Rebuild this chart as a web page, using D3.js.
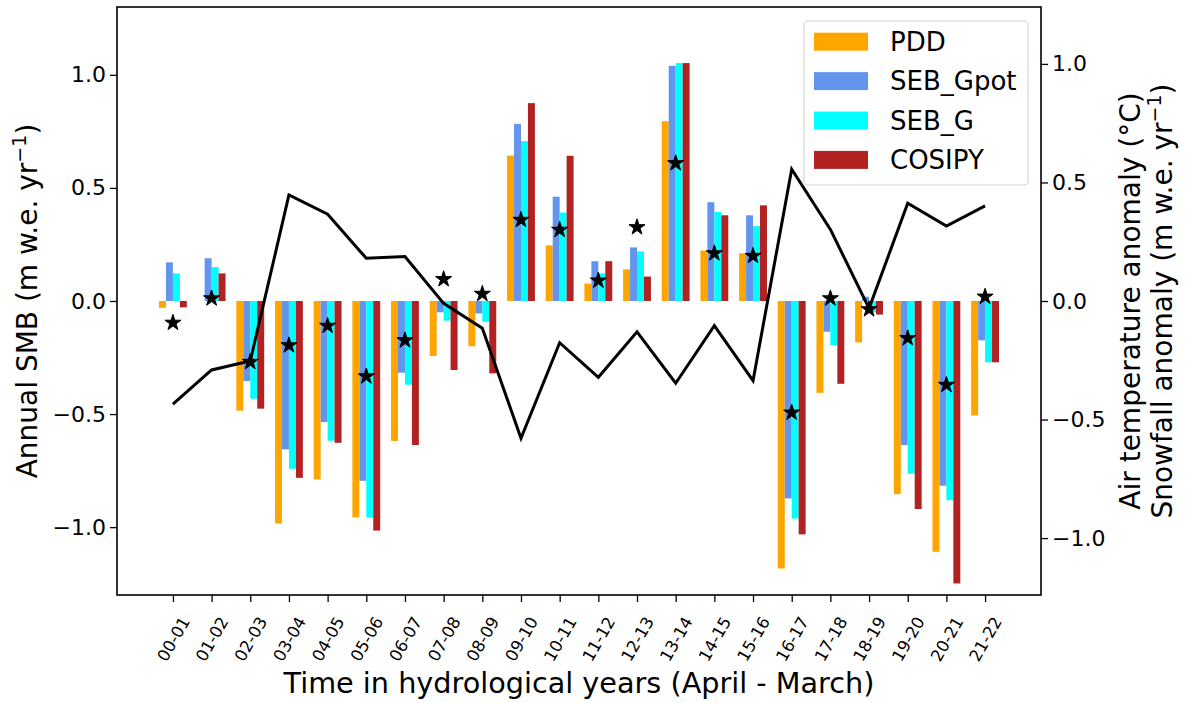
<!DOCTYPE html>
<html>
<head>
<meta charset="utf-8">
<script src="https://cdn.jsdelivr.net/npm/d3@7"></script>
<style>
  body { margin: 0; background: #fff; }
  svg text { font-family: "DejaVu Sans", sans-serif; fill: #000; }
</style>
</head>
<body>
<svg id="chart" width="1192" height="703"></svg>
<script>
/*global d3*/

// hydrological years (April - March)
var years = ["00-01", "01-02", "02-03", "03-04", "04-05", "05-06", "06-07", "07-08",
  "08-09", "09-10", "10-11", "11-12", "12-13", "13-14", "14-15", "15-16", "16-17",
  "17-18", "18-19", "19-20", "20-21", "21-22"];

// annual SMB per model (m w.e. yr-1)
var pdd = [-0.030, 0.000, -0.485, -0.984, -0.789, -0.957, -0.619, -0.243, -0.200, 0.643,
  0.246, 0.077, 0.140, 0.795, 0.223, 0.211, -1.183, -0.406, -0.183, -0.854, -1.109, -0.506];
var sebGpot = [0.171, 0.189, -0.354, -0.656, -0.535, -0.795, -0.317, -0.050, -0.055, 0.783,
  0.461, 0.176, 0.237, 1.040, 0.437, 0.379, -0.873, -0.136, 0.019, -0.637, -0.817, -0.174];
var sebG = [0.122, 0.150, -0.432, -0.742, -0.618, -0.957, -0.370, -0.087, -0.092, 0.707,
  0.391, 0.122, 0.219, 1.052, 0.394, 0.331, -0.962, -0.195, -0.050, -0.764, -0.881, -0.271];
var cosipy = [-0.028, 0.122, -0.476, -0.782, -0.627, -1.015, -0.637, -0.305, -0.320, 0.875,
  0.642, 0.176, 0.108, 1.052, 0.379, 0.423, -1.032, -0.366, -0.060, -0.920, -1.249, -0.271];

// anomalies on the right axis
var airTemp = [-0.435, -0.291, -0.253, 0.447, 0.366, 0.180, 0.188, -0.010, -0.115, -0.579,
  -0.176, -0.322, -0.130, -0.347, -0.104, -0.336, 0.556, 0.302, -0.031, 0.412, 0.316, 0.401];
var snowfall = [-0.092, 0.011, -0.257, -0.187, -0.105, -0.318, -0.166, 0.092, 0.030, 0.342,
  0.300, 0.086, 0.311, 0.581, 0.201, 0.190, -0.471, 0.011, -0.035, -0.157, -0.354, 0.018];

var seriesNames = ["PDD", "SEB_Gpot", "SEB_G", "COSIPY"];
var seriesColors = ["orange", "cornflowerblue", "cyan", "firebrick"];
var smbTicks = [-1.0, -0.5, 0.0, 0.5, 1.0];
var anomalyTicks = [-1.0, -0.5, 0.0, 0.5, 1.0];

(function () {
  "use strict";

  var svg = d3.select("#chart"),
    left = 117,
    right = 1041,
    top = 7,
    bottom = 595,
    barWidth = 0.18,
    series = [pdd, sebGpot, sebG, cosipy],

    x = d3.scaleLinear().domain([-1.446, 22.446]).range([left, right]),
    ySmb = d3.scaleLinear().domain([-1.3, 1.3]).range([bottom, top]),
    yAnom = d3.scaleLinear().domain([-1.24, 1.24]).range([bottom, top]),
    fmt = d3.format(".1f"),
    bars, line, legend, axisG,

    addSuperscript = function (sel, base) {
      sel.text(base);
      sel.append("tspan").attr("baseline-shift", "super").attr("font-size", 19).text("\u22121");
      sel.append("tspan").text(")");
    };

  /////////////////////////////////////////////////////////
  /// bars
  /////////////////////////////////////////////////////////
  bars = svg.append("g").attr("class", "bars");
  series.forEach(function (values, s) {
    var offset = (s - 1.5) * barWidth;
    bars.append("g")
      .attr("fill", seriesColors[s])
      .selectAll("rect")
      .data(values)
      .enter()
      .append("rect")
      .attr("x", function (d, i) { return x(i + offset - barWidth / 2); })
      .attr("width", x(barWidth) - x(0))
      .attr("y", function (d) { return ySmb(Math.max(0, d)); })
      .attr("height", function (d) { return Math.abs(ySmb(d) - ySmb(0)); });
  });

  /////////////////////////////////////////////////////////
  /// air temperature line + snowfall stars
  /////////////////////////////////////////////////////////
  line = d3.line()
    .x(function (d, i) { return x(i); })
    .y(function (d) { return yAnom(d); });

  svg.append("path")
    .datum(airTemp)
    .attr("d", line)
    .attr("fill", "none")
    .attr("stroke", "#000")
    .attr("stroke-width", 3)
    .attr("stroke-linejoin", "miter");

  svg.append("g")
    .selectAll("path")
    .data(snowfall)
    .enter()
    .append("path")
    .attr("d", d3.symbol().type(d3.symbolStar).size(80))
    .attr("transform", function (d, i) {
      return "translate(" + x(i) + "," + yAnom(d) + ")";
    })
    .attr("fill", "#000")
    .attr("stroke", "#000")
    .attr("stroke-width", 1);

  /////////////////////////////////////////////////////////
  /// axes
  /////////////////////////////////////////////////////////
  axisG = svg.append("g")
    .attr("transform", "translate(" + left + ",0)")
    .call(d3.axisLeft(ySmb).tickValues(smbTicks).tickFormat(fmt).tickSize(7).tickPadding(4));
  axisG.select(".domain").remove();
  axisG.selectAll("text").attr("font-size", 22).attr("font-family", "DejaVu Sans");
  axisG.selectAll("line").attr("stroke-width", 1.3);

  axisG = svg.append("g")
    .attr("transform", "translate(" + right + ",0)")
    .call(d3.axisRight(yAnom).tickValues(anomalyTicks).tickFormat(fmt).tickSize(7).tickPadding(4));
  axisG.select(".domain").remove();
  axisG.selectAll("text").attr("font-size", 22).attr("font-family", "DejaVu Sans");
  axisG.selectAll("line").attr("stroke-width", 1.3);

  axisG = svg.append("g")
    .attr("transform", "translate(0," + bottom + ")")
    .call(d3.axisBottom(x).tickValues(d3.range(years.length))
      .tickFormat(function (i) { return years[i]; }).tickSize(7));
  axisG.select(".domain").remove();
  axisG.selectAll("line").attr("stroke-width", 1.3);
  axisG.selectAll("text")
    .attr("font-size", 16.5)
    .attr("font-family", "DejaVu Sans")
    .attr("y", 0)
    .attr("dy", "0.35em")
    .attr("text-anchor", "middle")
    .attr("transform", "translate(0,44) rotate(-60)");

  // frame
  svg.append("rect")
    .attr("x", left)
    .attr("y", top)
    .attr("width", right - left)
    .attr("height", bottom - top)
    .attr("fill", "none")
    .attr("stroke", "#000")
    .attr("stroke-width", 1.6);

  /////////////////////////////////////////////////////////
  /// titles
  /////////////////////////////////////////////////////////
  svg.append("text")
    .attr("transform", "translate(37," + ((top + bottom) / 2) + ") rotate(-90)")
    .attr("text-anchor", "middle")
    .attr("font-size", 28)
    .call(addSuperscript, "Annual SMB (m w.e. yr");

  svg.append("text")
    .attr("transform", "translate(1140," + ((top + bottom) / 2) + ") rotate(-90)")
    .attr("text-anchor", "middle")
    .attr("font-size", 28)
    .text("Air temperature anomaly (\u00b0C)");

  svg.append("text")
    .attr("transform", "translate(1172," + ((top + bottom) / 2) + ") rotate(-90)")
    .attr("text-anchor", "middle")
    .attr("font-size", 28)
    .call(addSuperscript, "Snowfall anomaly (m w.e. yr");

  svg.append("text")
    .attr("x", (left + right) / 2)
    .attr("y", 693)
    .attr("text-anchor", "middle")
    .attr("font-size", 28.7)
    .text("Time in hydrological years (April - March)");

  /////////////////////////////////////////////////////////
  /// legend
  /////////////////////////////////////////////////////////
  legend = svg.append("g");
  legend.append("rect")
    .attr("x", 804)
    .attr("y", 21)
    .attr("width", 224)
    .attr("height", 164)
    .attr("rx", 4)
    .attr("fill", "#fff")
    .attr("fill-opacity", 0.8)
    .attr("stroke", "#d5d5d5")
    .attr("stroke-width", 1.2);

  seriesNames.forEach(function (name, s) {
    var cy = 41.7 + s * 39.4;
    legend.append("rect")
      .attr("x", 814)
      .attr("y", cy - 9)
      .attr("width", 54)
      .attr("height", 18)
      .attr("fill", seriesColors[s]);
    legend.append("text")
      .attr("x", 890)
      .attr("y", cy)
      .attr("dy", "0.35em")
      .attr("font-size", 26)
      .text(name);
  });
}());
</script>
</body>
</html>
